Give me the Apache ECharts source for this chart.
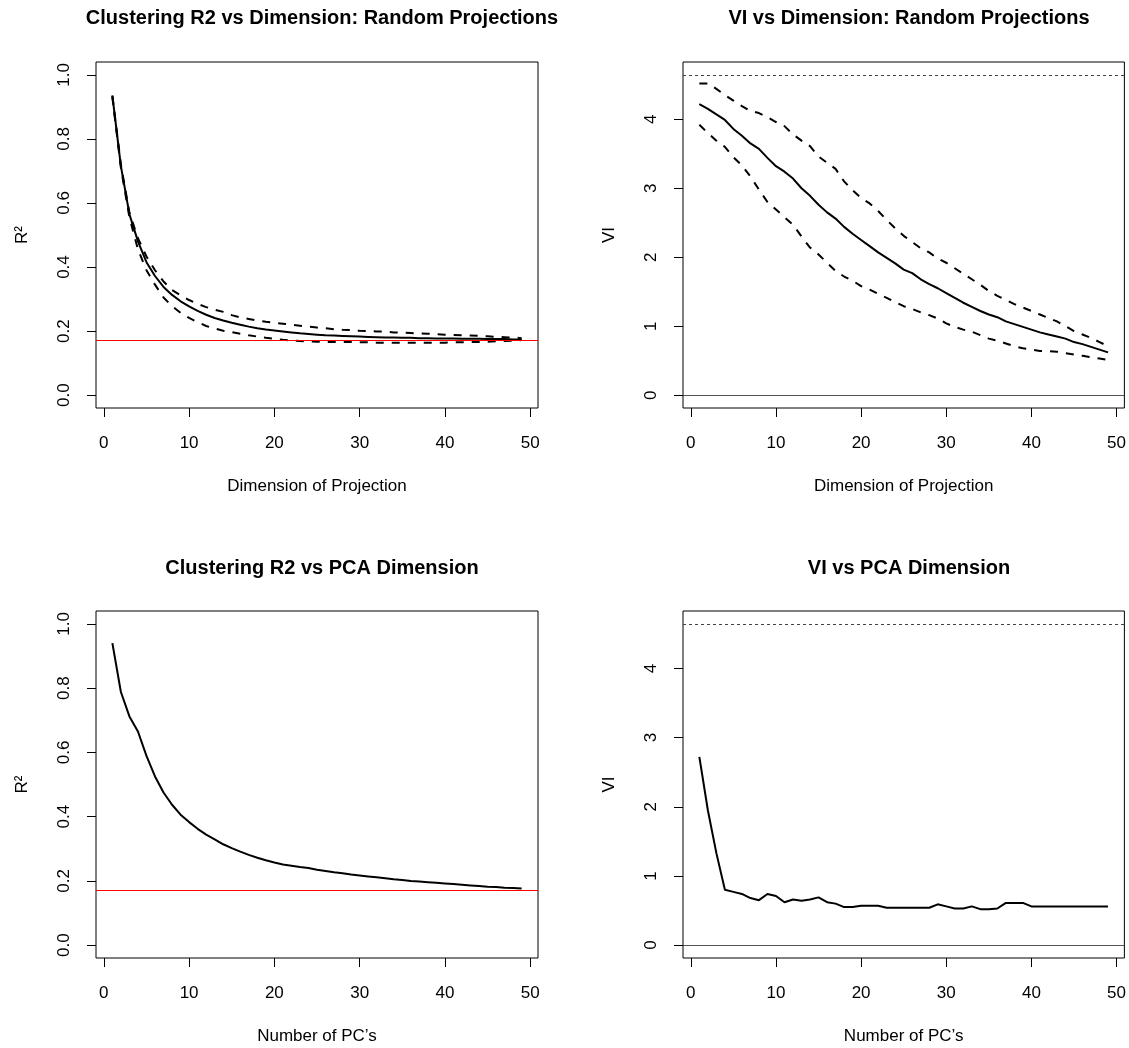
<!DOCTYPE html>
<html><head><meta charset="utf-8">
<script src="https://cdn.jsdelivr.net/npm/echarts@6/dist/echarts.min.js"></script>
<style>html,body{margin:0;padding:0;background:#fff}#c{width:1129px;height:1048px}</style>
</head><body><div id="c"></div>
<script>
// ---- data ----
const dims = [1,2,3,4,5,6,7,8,9,10,11,12,13,14,15,16,17,18,19,20,21,22,23,24,25,26,27,28,29,30,31,32,33,34,35,36,37,38,39,40,41,42,43,44,45,46,47,48,49];

const rpR2Mean = [0.935,0.715,0.565,0.48,0.415,0.372,0.338,0.313,0.293,0.277,0.263,0.251,0.241,0.233,0.226,0.220,0.214,0.209,0.205,0.202,0.199,0.196,0.193,0.191,0.189,0.187,0.186,0.185,0.184,0.183,0.182,0.181,0.180,0.180,0.179,0.179,0.178,0.178,0.177,0.177,0.177,0.176,0.176,0.176,0.175,0.175,0.175,0.174,0.174];
const rpR2Upper = [0.935,0.72,0.57,0.49,0.433,0.39,0.355,0.328,0.312,0.297,0.285,0.275,0.267,0.26,0.25,0.243,0.238,0.233,0.229,0.226,0.223,0.220,0.217,0.214,0.211,0.209,0.206,0.204,0.203,0.201,0.200,0.199,0.198,0.196,0.195,0.194,0.193,0.192,0.190,0.189,0.188,0.187,0.186,0.185,0.184,0.182,0.181,0.180,0.178];
const rpR2Lower = [0.93,0.71,0.555,0.455,0.39,0.345,0.305,0.278,0.257,0.241,0.228,0.216,0.208,0.201,0.197,0.192,0.187,0.183,0.179,0.176,0.173,0.171,0.169,0.168,0.167,0.166,0.166,0.166,0.166,0.165,0.165,0.164,0.164,0.164,0.164,0.164,0.164,0.164,0.164,0.164,0.165,0.165,0.166,0.166,0.167,0.168,0.169,0.170,0.172];

const rpVIMean = [4.22,4.15,4.07,3.99,3.86,3.76,3.65,3.57,3.44,3.32,3.24,3.14,3.00,2.89,2.76,2.65,2.56,2.44,2.34,2.25,2.16,2.07,1.99,1.91,1.82,1.77,1.68,1.61,1.55,1.48,1.41,1.34,1.28,1.22,1.17,1.13,1.07,1.03,0.99,0.95,0.91,0.88,0.85,0.82,0.77,0.74,0.70,0.66,0.62];
const rpVIUpper = [4.52,4.52,4.44,4.35,4.27,4.19,4.12,4.09,4.03,3.96,3.90,3.78,3.69,3.61,3.46,3.37,3.28,3.10,2.97,2.86,2.78,2.67,2.54,2.42,2.31,2.22,2.13,2.07,1.98,1.92,1.84,1.76,1.68,1.60,1.51,1.44,1.38,1.32,1.27,1.22,1.17,1.12,1.07,1.00,0.93,0.88,0.83,0.77,0.71];
const rpVILower = [3.92,3.80,3.69,3.60,3.45,3.33,3.17,2.98,2.80,2.69,2.58,2.47,2.30,2.14,2.04,1.92,1.80,1.72,1.66,1.58,1.53,1.47,1.41,1.35,1.29,1.25,1.20,1.16,1.11,1.04,0.99,0.95,0.92,0.87,0.82,0.79,0.75,0.71,0.68,0.66,0.64,0.64,0.63,0.61,0.59,0.57,0.55,0.53,0.51];

const pcaR2 = [0.94,0.788,0.712,0.665,0.589,0.525,0.475,0.437,0.406,0.383,0.362,0.344,0.329,0.314,0.302,0.291,0.281,0.272,0.264,0.257,0.251,0.247,0.243,0.240,0.235,0.231,0.227,0.224,0.220,0.217,0.214,0.211,0.208,0.205,0.203,0.200,0.198,0.196,0.194,0.192,0.190,0.188,0.186,0.184,0.182,0.181,0.179,0.178,0.176];
const pcaVI = [2.72,1.95,1.33,0.80,0.77,0.74,0.68,0.65,0.74,0.71,0.62,0.66,0.64,0.66,0.69,0.62,0.60,0.55,0.55,0.57,0.57,0.57,0.54,0.54,0.54,0.54,0.54,0.54,0.59,0.56,0.53,0.53,0.56,0.52,0.52,0.53,0.61,0.61,0.61,0.56,0.56,0.56,0.56,0.56,0.56,0.56,0.56,0.56,0.56];

const r2Ref = 0.174;     // red reference line
const viMax = 4.644;     // dotted reference line (max VI)
const viZero = 0;        // zero line

const xTicks = [0,10,20,30,40,50];
const r2Ticks = [0,0.2,0.4,0.6,0.8,1.0];
const viTicks = [0,1,2,3,4];

const titles = ['Clustering R2 vs Dimension: Random Projections','VI vs Dimension: Random Projections','Clustering R2 vs PCA Dimension','VI vs PCA Dimension'];
const xNames = ['Dimension of Projection','Dimension of Projection','Number of PC\u2019s','Number of PC\u2019s'];
const yNames = ['R\u00B2','VI','R\u00B2','VI'];

// ---- chart ----
const FONT = 'Liberation Sans, Arial, Helvetica, sans-serif';
const pair = (ys) => dims.map((d, i) => [d, ys[i]]);

const grids = [
  {left: 96, top: 62, width: 442, height: 346},
  {left: 683, top: 62, width: 442, height: 346},
  {left: 96, top: 611, width: 442, height: 347},
  {left: 683, top: 611, width: 442, height: 347}
].map(g => Object.assign(g, {show: true, borderColor: '#000', borderWidth: 1, backgroundColor: 'transparent', containLabel: false}));

const yRanges = [[-0.04, 1.04], [-0.186, 4.83], [-0.04, 1.04], [-0.186, 4.83]];
const yTickSets = [r2Ticks, viTicks, r2Ticks, viTicks];

const xAxes = grids.map((g, i) => ({
  type: 'value', gridIndex: i, min: -0.92, max: 50.92, position: 'bottom',
  splitLine: {show: false}, axisLine: {show: false, onZero: false},
  axisTick: {show: true, inside: false, length: 9, customValues: xTicks, lineStyle: {color: '#000', width: 1}},
  axisLabel: {customValues: xTicks, margin: 27, fontSize: 17, color: '#000', fontFamily: FONT},
  name: xNames[i], nameLocation: 'middle', nameGap: 70,
  nameTextStyle: {fontSize: 17, color: '#000', fontFamily: FONT}
}));

const yAxes = grids.map((g, i) => ({
  type: 'value', gridIndex: i, min: yRanges[i][0], max: yRanges[i][1], position: 'left',
  splitLine: {show: false}, axisLine: {show: false, onZero: false},
  axisTick: {show: true, inside: false, length: 9, customValues: yTickSets[i], lineStyle: {color: '#000', width: 1}},
  axisLabel: {customValues: yTickSets[i], rotate: 90, margin: 23, fontSize: 17, color: '#000', fontFamily: FONT,
    formatter: (v) => (i % 2 === 0 ? v.toFixed(1) : String(Math.round(v)))},
  name: yNames[i], nameLocation: 'middle', nameGap: 65, nameRotate: 90,
  nameTextStyle: {fontSize: 17, color: '#000', fontFamily: FONT}
}));

const titleCenters = [[317, 3], [904, 3], [317, 553], [904, 553]];
const titleOpts = titles.map((t, i) => ({
  text: t, left: titleCenters[i][0], top: titleCenters[i][1], textAlign: 'center',
  textStyle: {fontSize: 20, fontWeight: 'bold', color: '#000', fontFamily: FONT}
}));

function lineSeries(idx, ys, dashed, extra) {
  return Object.assign({
    type: 'line', xAxisIndex: idx, yAxisIndex: idx, data: pair(ys),
    showSymbol: false, symbol: 'none', smooth: false, silent: true,
    lineStyle: {color: '#000', width: 2, type: dashed ? [8, 8] : 'solid'},
    z: 3
  }, extra || {});
}
function hLine(value, color, type) {
  return {silent: true, symbol: ['none', 'none'], label: {show: false},
    lineStyle: {color: color, width: 1, type: type}, data: [{yAxis: value}], animation: false};
}

const series = [
  lineSeries(0, rpR2Upper, true),
  lineSeries(0, rpR2Lower, true),
  lineSeries(0, rpR2Mean, false, {markLine: hLine(r2Ref, '#ff0000', 'solid')}),
  lineSeries(1, rpVIUpper, true),
  lineSeries(1, rpVILower, true),
  lineSeries(1, rpVIMean, false, {markLine: hLine(viZero, '#555', 'solid')}),
  lineSeries(1, rpVIMean, false, {lineStyle: {opacity: 0}, markLine: hLine(viMax, '#444', [3, 3])}),
  lineSeries(2, pcaR2, false, {markLine: hLine(r2Ref, '#ff0000', 'solid')}),
  lineSeries(3, pcaVI, false, {markLine: hLine(viZero, '#555', 'solid')}),
  lineSeries(3, pcaVI, false, {lineStyle: {opacity: 0}, markLine: hLine(viMax, '#444', [3, 3])})
];

const chart = echarts.init(document.getElementById('c'), null, {renderer: 'canvas'});
chart.setOption({
  animation: false,
  backgroundColor: '#fff',
  title: titleOpts,
  grid: grids,
  xAxis: xAxes,
  yAxis: yAxes,
  series: series
});
</script></body></html>
